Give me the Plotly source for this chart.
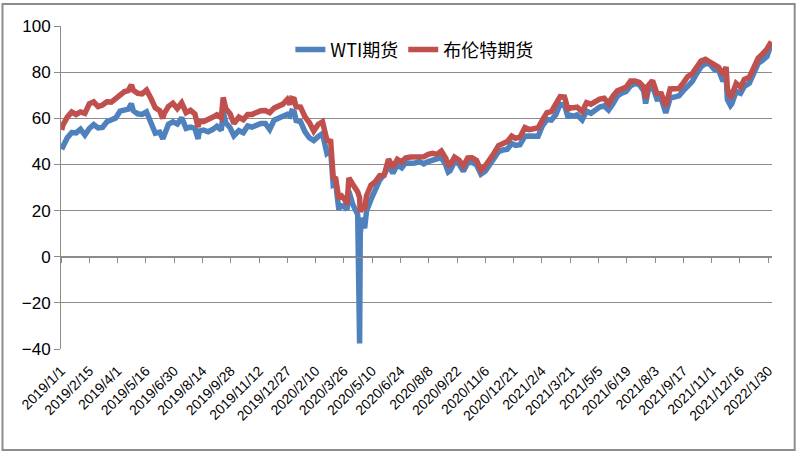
import plotly.graph_objects as go
import pandas as pd

# ---- data (approx. weekly samples) ----
dates = [
    "2019-01-02","2019-01-04","2019-01-11","2019-01-18","2019-01-25","2019-02-01","2019-02-08","2019-02-15",
    "2019-02-22","2019-03-01","2019-03-08","2019-03-15","2019-03-22","2019-03-29","2019-04-05","2019-04-12",
    "2019-04-18","2019-04-23","2019-04-26","2019-05-03","2019-05-10","2019-05-17","2019-05-24","2019-05-31",
    "2019-06-07","2019-06-12","2019-06-14","2019-06-21","2019-06-28","2019-07-05","2019-07-12","2019-07-19",
    "2019-07-26","2019-08-02","2019-08-07","2019-08-09","2019-08-16","2019-08-23","2019-08-30","2019-09-06",
    "2019-09-13","2019-09-16","2019-09-20","2019-09-27","2019-10-03","2019-10-11","2019-10-18","2019-10-25",
    "2019-11-01","2019-11-08","2019-11-15","2019-11-22","2019-11-29","2019-12-06","2019-12-13","2019-12-20",
    "2019-12-27","2019-12-31",
    "2020-01-03","2020-01-07","2020-01-10","2020-01-17","2020-01-24","2020-01-31","2020-02-07","2020-02-14",
    "2020-02-21","2020-02-28","2020-03-05","2020-03-09","2020-03-13","2020-03-18","2020-03-20","2020-03-27",
    "2020-03-31","2020-04-03","2020-04-09","2020-04-17","2020-04-20","2020-04-21","2020-04-22","2020-04-24",
    "2020-04-28","2020-05-01","2020-05-08","2020-05-15","2020-05-22","2020-05-29","2020-06-05","2020-06-12",
    "2020-06-19","2020-06-26","2020-07-02","2020-07-10","2020-07-17","2020-07-24","2020-07-31","2020-08-07",
    "2020-08-14","2020-08-21","2020-08-28","2020-09-04","2020-09-08","2020-09-11","2020-09-18","2020-09-25",
    "2020-10-02","2020-10-09","2020-10-16","2020-10-23","2020-10-30","2020-11-06","2020-11-13","2020-11-20",
    "2020-11-27","2020-12-04","2020-12-11","2020-12-18","2020-12-24","2020-12-31",
    "2021-01-08","2021-01-15","2021-01-22","2021-01-29","2021-02-05","2021-02-12","2021-02-19","2021-02-26",
    "2021-03-05","2021-03-12","2021-03-18","2021-03-19","2021-03-26","2021-04-01","2021-04-09","2021-04-16",
    "2021-04-23","2021-04-30","2021-05-07","2021-05-14","2021-05-21","2021-05-28","2021-06-04","2021-06-11",
    "2021-06-18","2021-06-25","2021-07-02","2021-07-09","2021-07-16","2021-07-19","2021-07-23","2021-07-30",
    "2021-08-06","2021-08-13","2021-08-20","2021-08-27","2021-09-03","2021-09-10","2021-09-17","2021-09-24",
    "2021-10-01","2021-10-08","2021-10-15","2021-10-22","2021-10-29","2021-11-05","2021-11-12","2021-11-19",
    "2021-11-24","2021-11-26","2021-12-01","2021-12-03","2021-12-10","2021-12-17","2021-12-23","2021-12-31",
    "2022-01-07","2022-01-14","2022-01-21","2022-01-28","2022-02-04",
]

wti = [
    46.54,47.96,51.59,53.80,53.69,55.26,52.72,55.59,
    57.26,55.80,56.07,58.52,59.04,60.14,63.08,63.89,
    64.00,66.30,63.30,61.94,61.66,62.76,58.63,53.50,
    53.99,51.14,52.51,57.43,58.47,57.51,60.21,55.63,
    56.20,55.66,51.09,54.50,54.87,54.17,55.10,56.52,
    54.85,62.90,58.09,55.91,52.45,54.70,53.78,56.66,
    56.20,57.24,57.72,57.77,55.17,59.20,60.07,60.44,
    61.72,61.06,
    63.05,62.70,59.04,58.54,54.19,51.56,50.32,52.05,
    53.38,44.76,45.90,31.13,31.73,20.37,22.43,21.51,
    20.48,28.34,22.76,18.27,-37.63,10.01,13.78,16.94,
    12.34,19.78,24.74,29.43,33.25,35.49,39.55,36.26,
    39.75,38.49,40.65,40.55,40.59,41.29,40.27,41.22,
    42.01,42.34,42.97,39.77,36.76,37.33,41.11,40.25,
    37.05,40.60,40.88,39.85,35.79,37.14,40.13,42.15,
    45.53,46.26,46.57,49.10,48.23,48.52,
    52.24,52.36,52.27,52.20,56.85,59.47,59.24,61.50,
    66.09,65.61,60.00,61.42,60.97,61.45,59.32,63.13,
    62.14,63.58,64.90,65.37,63.58,66.32,69.62,70.91,
    71.64,74.05,75.16,74.56,71.81,66.42,72.07,73.95,
    68.28,68.44,62.32,68.74,69.29,69.72,71.97,73.98,
    75.88,79.35,82.28,83.76,83.57,81.27,80.79,76.10,
    78.39,68.15,65.57,66.26,71.67,70.86,73.79,75.21,
    78.90,83.82,85.14,86.82,92.31,
]

brent = [
    54.91,57.06,60.48,62.70,61.64,62.75,62.10,66.25,
    67.12,65.07,65.74,67.16,67.03,68.39,70.34,71.55,
    71.97,74.51,72.15,70.85,70.62,72.21,68.69,64.49,
    63.29,59.97,62.01,65.20,66.55,64.23,66.72,62.47,
    63.46,61.89,56.23,58.53,58.64,59.34,60.43,61.54,
    60.22,69.02,64.28,61.91,57.71,60.51,59.42,61.67,
    61.69,62.51,63.30,63.39,62.43,64.39,65.22,66.14,
    68.16,66.00,
    68.60,68.27,64.98,64.85,60.69,58.16,54.47,57.32,
    58.50,50.52,49.99,34.36,33.85,24.88,26.98,24.93,
    22.74,34.11,31.48,28.08,25.57,19.33,20.37,21.44,
    20.46,26.44,30.97,32.50,35.13,35.33,42.30,38.73,
    42.19,41.02,42.80,43.24,43.14,43.34,43.30,44.40,
    44.80,44.35,45.81,42.66,39.78,39.83,43.15,41.92,
    39.27,42.85,42.93,41.77,37.46,39.45,42.78,44.96,
    48.18,49.25,49.97,52.26,51.29,51.80,
    55.99,55.10,55.41,55.88,59.34,62.43,62.91,66.13,
    69.36,69.22,63.28,64.53,64.57,64.86,62.95,66.77,
    66.11,67.25,68.28,68.71,66.44,69.63,71.89,72.69,
    73.51,76.18,76.17,75.55,73.59,68.62,74.10,76.33,
    70.70,70.59,65.18,72.70,72.61,72.92,75.34,78.09,
    79.28,82.39,84.86,85.53,84.38,82.74,82.17,78.89,
    82.25,72.72,68.87,69.88,75.15,73.52,76.85,77.78,
    81.75,86.06,87.89,90.03,93.27,
]

tick_labels = [
    "2019/1/1","2019/2/15","2019/4/1","2019/5/16","2019/6/30","2019/8/14","2019/9/28",
    "2019/11/12","2019/12/27","2020/2/10","2020/3/26","2020/5/10","2020/6/24","2020/8/8",
    "2020/9/22","2020/11/6","2020/12/21","2021/2/4","2021/3/21","2021/5/5","2021/6/19",
    "2021/8/3","2021/9/17","2021/11/1","2021/12/16","2022/1/30",
]

series_names = ["WTI期货", "布伦特期货"]
colors = ["#4F81BD", "#C0504D"]

tick_vals = [pd.Timestamp(s.replace("/", "-")) for s in tick_labels]
x_range = [pd.Timestamp("2019-01-01"), pd.Timestamp("2022-02-05")]
y_min, y_max = -40, 100

GRID = "#8C8C8C"
FONT = "Liberation Sans"

fig = go.Figure()
for name, vals, col in zip(series_names, [wti, brent], colors):
    fig.add_trace(go.Scatter(
        x=pd.to_datetime(dates), y=vals, mode="lines", name=name,
        line=dict(color=col, width=5.5), hoverinfo="skip",
    ))

# invisible helper trace so the zero-crossing axis is drawn
fig.add_trace(go.Scatter(x=[pd.Timestamp(dates[0])], y=[None], xaxis="x2", yaxis="y",
                         mode="lines", showlegend=False, hoverinfo="skip"))

fig.update_layout(
    width=800, height=457,
    margin=dict(l=61, r=28, t=26, b=108),
    paper_bgcolor="white", plot_bgcolor="white",
    font=dict(family=FONT, color="black"),
    xaxis=dict(
        type="date", range=x_range, tickmode="array",
        tickvals=tick_vals, ticktext=tick_labels, tickangle=-45,
        tickfont=dict(size=14, family=FONT, color="black"),
        ticklabelstandoff=10,
        showgrid=False, showline=False, ticks="", zeroline=False,
    ),
    xaxis2=dict(
        type="date", range=x_range, overlaying="x", anchor="free",
        position=(0 - y_min) / (y_max - y_min),
        tickmode="array", tickvals=tick_vals, showticklabels=False,
        ticks="outside", ticklen=5, tickcolor=GRID, tickwidth=1,
        showline=True, linecolor=GRID, linewidth=1, showgrid=False, zeroline=False,
    ),
    yaxis=dict(
        range=[y_min, y_max], dtick=20, tick0=0,
        showgrid=True, gridcolor=GRID, gridwidth=1,
        showline=True, linecolor=GRID, linewidth=1,
        ticks="outside", ticklen=6, tickcolor=GRID,
        zeroline=False,
        tickfont=dict(size=17, family=FONT, color="black"),
    ),
    legend=dict(
        orientation="h", x=0.497, xanchor="center", y=0.926, yanchor="middle",
        font=dict(size=18, family="Noto Sans CJK SC", color="black"),
        bgcolor="rgba(0,0,0,0)", itemwidth=30,
    ),
    shapes=[dict(
        type="rect", xref="paper", yref="paper",
        x0=-0.0823, x1=1.0319, y0=-0.3127, y1=1.0681,
        line=dict(color=GRID, width=2), fillcolor="rgba(0,0,0,0)", layer="below",
    )],
)

fig.write_html("out.html")
